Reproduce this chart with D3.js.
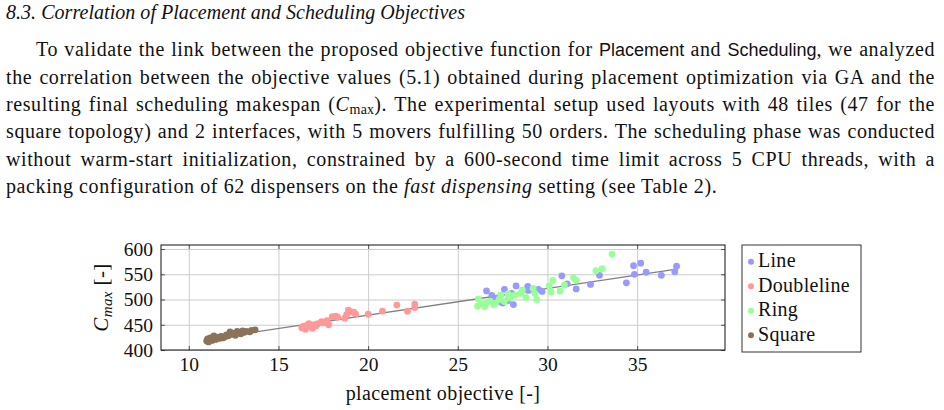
<!DOCTYPE html>
<html>
<head>
<meta charset="utf-8">
<script src="https://cdn.jsdelivr.net/npm/d3@7"></script>
<style>
body{margin:0;background:#fff;width:944px;height:410px;overflow:hidden;position:relative;
  font-family:"Liberation Serif",serif;color:#111;}
.ln{position:absolute;font-size:20px;letter-spacing:0.6px;line-height:22px;text-align:justify;text-align-last:justify;}
.last{text-align-last:left;}
.sf{font-family:"Liberation Sans",sans-serif;font-size:18px;letter-spacing:0;}
.sub{font-size:14px;position:relative;top:3px;letter-spacing:0.2px;}
#head{position:absolute;left:6px;top:1px;font-size:20px;line-height:22px;font-style:italic;white-space:nowrap;}
svg{position:absolute;left:0;top:0;}
</style>
</head>
<body>
<span id="head">8.3. Correlation of Placement and Scheduling Objectives</span>
<div class="ln" style="left:36px;width:899px;top:38.3px">To validate the link between the proposed objective function for <span class="sf">Placement</span> and <span class="sf">Scheduling</span>, we analyzed</div>
<div class="ln" style="left:6px;width:929px;top:65.6px">the correlation between the objective values (5.1) obtained during placement optimization via GA and the</div>
<div class="ln" style="left:6px;width:929px;top:92.9px">resulting final scheduling makespan (<i>C</i><span class="sub">max</span>). The experimental setup used layouts with 48 tiles (47 for the</div>
<div class="ln" style="left:6px;width:929px;top:120.2px">square topology) and 2 interfaces, with 5 movers fulfilling 50 orders. The scheduling phase was conducted</div>
<div class="ln" style="left:6px;width:929px;top:147.5px">without warm-start initialization, constrained by a 600-second time limit across 5 CPU threads, with a</div>
<div class="ln last" style="left:6px;width:929px;top:174.8px">packing configuration of 62 dispensers on the <i>fast dispensing</i> setting (see Table 2).</div>
<svg id="chart" width="944" height="410"></svg>
<script>
// placement objective / Cmax per topology
var lineObj  = [26.6,26.9,27.0,27.2,27.4,27.5,27.6,27.8,28.1,28.25,28.0,28.9,28.95,29.5,29.7,30.8,31.1,31.6,32.4,32.9,34.4,34.8,35.2,34.85,35.5,36.35,37.2,37.1];
var lineCmax = [517,508,499,503,495,493,520,498,490,527,512,526,518,520,516,547,531,521,530,548,533,567,572,550,554,548,566,555];

var doubleObj  = [16.3,16.4,16.5,16.6,16.7,16.8,16.9,17.0,17.1,17.2,17.4,17.5,17.7,17.8,18.0,18.2,18.3,18.7,18.8,18.9,19.0,19.2,19.3,20.0,20.8,21.6,22.2,22.6,22.6];
var doubleCmax = [444,447,441,449,452,446,443,450,448,452,456,454,458,450,466,467,465,463,470,479,476,475,471,471,477,489,477,491,484];

var ringObj  = [26.1,26.15,26.3,26.5,26.6,26.8,27.0,27.1,27.3,27.4,27.6,27.8,27.9,28.0,28.2,28.5,28.6,28.8,29.2,29.3,29.4,30.1,30.2,30.3,30.7,30.95,31.45,31.6,32.7,33.05,33.6];
var ringCmax = [487,501,492,486,494,497,490,493,500,509,496,511,503,507,509,512,519,504,522,512,500,527,515,538,517,529,543,538,557,561,590];

var squareObj  = [11.0,11.05,11.1,11.15,11.2,11.3,11.4,11.5,11.6,11.7,11.8,11.9,12.0,12.1,12.2,12.3,12.4,12.5,12.6,12.7,12.8,12.9,13.0,13.1,13.2,13.4,13.5,13.7];
var squareCmax = [418,422,416,421,424,419,428,421,425,423,427,424,426,430,428,436,431,433,429,437,434,432,438,435,437,436,439,440];

var seriesNames  = ["Line","Doubleline","Ring","Square"];
var seriesColors = ["#9999ff","#ff9999","#99ff99","#8b735b"];

var xTicks = [10,15,20,25,30,35];
var yTicks = [400,450,500,550,600];

// linear fit Cmax = fitIntercept + fitSlope * objective
var fitIntercept = 363;
var fitSlope = 5.3;

(function(){

	// stretch the heading to the width of the original
	var head = document.getElementById("head");
	var hw = head.getBoundingClientRect().width;
	var htxt = head.textContent;
	head.style.letterSpacing = ((459 - hw) / (htxt.length - 1)) + "px";

	// keep every paragraph line on one row
	document.querySelectorAll(".ln").forEach(function(el){
		var ls = 0.6;
		while(el.offsetHeight > 30 && ls > -1){
			ls -= 0.05;
			el.style.letterSpacing = ls + "px";
		}
	});

	var series = [
		{name: seriesNames[0], color: seriesColors[0], xs: lineObj,   ys: lineCmax},
		{name: seriesNames[1], color: seriesColors[1], xs: doubleObj, ys: doubleCmax},
		{name: seriesNames[2], color: seriesColors[2], xs: ringObj,   ys: ringCmax},
		{name: seriesNames[3], color: seriesColors[3], xs: squareObj, ys: squareCmax}
	];

	var pLeft = 161, pRight = 725, pTop = 245, pBottom = 350;

	var xScale = d3.scaleLinear()
				.domain([8.45, 39.9])
				.range([pLeft, pRight]);

	var yScale = d3.scaleLinear()
				.domain([400, 608])
				.range([pBottom, pTop]);

	var svg = d3.select("#chart");
	var font = "'Liberation Serif', serif";

	// grid
	svg.append("g")
		.attr("transform", "translate(0," + pBottom + ")")
		.call(d3.axisBottom(xScale).tickValues(xTicks).tickSize(-(pBottom - pTop)).tickFormat(""))
		.call(function(g){ g.select(".domain").remove(); })
		.selectAll("line").attr("stroke", "#cccccc");

	svg.append("g")
		.attr("transform", "translate(" + pLeft + ",0)")
		.call(d3.axisLeft(yScale).tickValues(yTicks).tickSize(-(pRight - pLeft)).tickFormat(""))
		.call(function(g){ g.select(".domain").remove(); })
		.selectAll("line").attr("stroke", "#cccccc");

	// inward tick marks on all four sides
	function ticks(axis, tx, ty){
		svg.append("g")
			.attr("transform", "translate(" + tx + "," + ty + ")")
			.call(axis.tickSize(-4).tickFormat(""))
			.call(function(g){ g.select(".domain").remove(); })
			.selectAll("line").attr("stroke", "#555");
	}
	ticks(d3.axisBottom(xScale).tickValues(xTicks), 0, pBottom);
	ticks(d3.axisTop(xScale).tickValues(xTicks), 0, pTop);
	ticks(d3.axisLeft(yScale).tickValues(yTicks), pLeft, 0);
	ticks(d3.axisRight(yScale).tickValues(yTicks), pRight, 0);

	// tick labels
	var xAxis = svg.append("g")
		.attr("transform", "translate(0," + pBottom + ")")
		.call(d3.axisBottom(xScale).tickValues(xTicks).tickSize(0).tickPadding(7));
	xAxis.select(".domain").remove();
	xAxis.attr("font-family", font).attr("font-size", 19.5);
	xAxis.selectAll("text").attr("fill", "#111");

	var yAxis = svg.append("g")
		.attr("transform", "translate(" + pLeft + ",0)")
		.call(d3.axisLeft(yScale).tickValues(yTicks).tickSize(0).tickPadding(8));
	yAxis.select(".domain").remove();
	yAxis.attr("font-family", font).attr("font-size", 19.5);
	yAxis.selectAll("text").attr("fill", "#111");

	// fit line
	var allObj = lineObj.concat(doubleObj, ringObj, squareObj);
	var fitX = d3.extent(allObj);
	svg.append("path")
		.datum(fitX)
		.attr("fill", "none")
		.attr("stroke", "#808080")
		.attr("stroke-width", 1.3)
		.attr("d", d3.line()
			.x(function(d){ return xScale(d); })
			.y(function(d){ return yScale(fitIntercept + fitSlope * d); }));

	// points
	series.forEach(function(s){
		svg.append("g")
			.selectAll("circle")
			.data(s.xs)
			.enter()
			.append("circle")
			.attr("cx", function(d){ return xScale(d); })
			.attr("cy", function(d, i){ return yScale(s.ys[i]); })
			.attr("r", 3.4)
			.attr("fill", s.color);
	});

	// frame
	svg.append("rect")
		.attr("x", pLeft).attr("y", pTop)
		.attr("width", pRight - pLeft).attr("height", pBottom - pTop)
		.attr("fill", "none").attr("stroke", "#111").attr("stroke-width", 1);

	// axis labels
	svg.append("text")
		.attr("x", (pLeft + pRight) / 2).attr("y", 400)
		.attr("text-anchor", "middle")
		.attr("font-family", font).attr("font-size", 20).attr("letter-spacing", 0.4).attr("fill", "#111")
		.text("placement objective [-]");

	var yl = svg.append("text")
		.attr("transform", "translate(108," + ((pTop + pBottom) / 2) + ") rotate(-90)")
		.attr("text-anchor", "middle")
		.attr("font-family", font).attr("font-size", 21).attr("letter-spacing", 0.4).attr("fill", "#111");
	yl.append("tspan").attr("font-style", "italic").text("C");
	yl.append("tspan").attr("font-style", "italic").attr("font-size", 15).attr("dy", 4).text("max");
	yl.append("tspan").attr("dy", -4).text(" [-]");

	// legend
	var legend = svg.append("g");
	legend.append("rect")
		.attr("x", 742).attr("y", 245)
		.attr("width", 119).attr("height", 107)
		.attr("fill", "#fff").attr("stroke", "#333").attr("stroke-width", 1);

	var items = legend.selectAll(".item")
		.data(series)
		.enter()
		.append("g")
		.attr("class", "item")
		.attr("transform", function(d, i){ return "translate(751," + (261.7 + i * 24.5) + ")"; });
	items.append("circle")
		.attr("r", 3)
		.attr("fill", function(d){ return d.color; });
	items.append("text")
		.attr("x", 7).attr("y", 5.5)
		.attr("font-family", font).attr("font-size", 20).attr("letter-spacing", 0.3).attr("fill", "#111")
		.text(function(d){ return d.name; });

})();
</script>
</body>
</html>
